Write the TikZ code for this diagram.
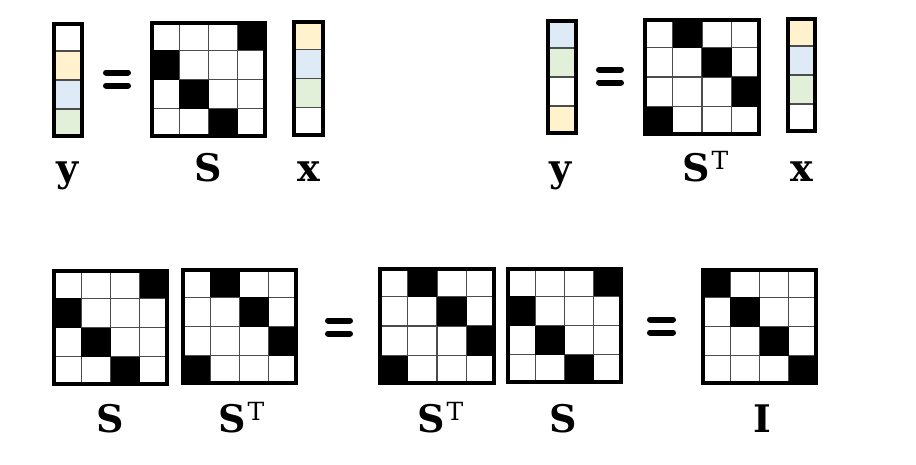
\documentclass[tikz,border=0pt]{standalone}
\usepackage{fontspec}
\setmainfont{DejaVu Serif}
\definecolor{cy}{HTML}{FFF2CC}
\definecolor{cb}{HTML}{DEEBF7}
\definecolor{cg}{HTML}{E2F0D9}
\tikzset{
 gridln/.style={draw=black!70, line width=1.3pt},
 frame/.style={draw=black, line width=4pt},
 eqbar/.style={line width=6pt, line cap=round},
 lbl/.style={font=\fontsize{38}{40}\selectfont\bfseries, inner sep=0pt},
}
\newcommand{\supT}{\kern2pt\raisebox{11.5pt}{\fontsize{25}{27}\selectfont\mdseries T}}
\newcommand{\pmat}[4]{%
 \begin{scope}[shift={(#1,#2)}]
  \pgfmathsetmacro\cellsz{#3/4}
  \foreach \i in {1,2,3} {\draw[gridln] ({\i*\cellsz},0) -- ({\i*\cellsz},#3); \draw[gridln] (0,{\i*\cellsz}) -- (#3,{\i*\cellsz});}
  \foreach \c/\r in {#4} {\fill[black] ({(\c-1)*\cellsz},{(\r-1)*\cellsz}) rectangle ++(\cellsz,\cellsz);}
  \draw[frame] (2,2) rectangle ({#3-2},{#3-2});
 \end{scope}}
\newcommand{\pvec}[5]{%
 \begin{scope}[shift={(#1,#2)}]
  \pgfmathsetmacro\cellh{#4/4}
  \foreach \col [count=\k] in {#5} {\fill[\col] (0,{(\k-1)*\cellh}) rectangle (#3,{\k*\cellh});}
  \foreach \i in {1,2,3} {\draw[gridln] (0,{\i*\cellh}) -- (#3,{\i*\cellh});}
  \draw[frame] (2,2) rectangle ({#3-2},{#4-2});
 \end{scope}}
\newcommand{\eqsign}[3]{%
 \draw[eqbar] ({#1+3},{#3-6.5}) -- ({#2-3},{#3-6.5});
 \draw[eqbar] ({#1+3},{#3+6.5}) -- ({#2-3},{#3+6.5});}
\begin{document}
\begin{tikzpicture}[x=1pt,y=-1pt]
\useasboundingbox (0,0) rectangle (916,464);
\fill[white] (0,0) rectangle (916,464);
% top left: y = S x
\pvec{52}{22}{32}{116}{white,cy,cb,cg}
\eqsign{103}{131}{79}
\pmat{150}{21}{117}{4/1,1/2,2/3,3/4}
\pvec{292}{20}{33}{117}{cy,cb,cg,white}
\node[lbl,anchor=base] (ly1) at (68,181) {y};
\node[lbl,anchor=base] (ls1) at (208,181) {S};
\node[lbl,anchor=base] (lx1) at (309,181) {x};
% top right: y = S^T x
\pvec{546}{19}{32}{116}{cb,cg,white,cy}
\eqsign{596}{624}{76}
\pmat{643}{18}{118}{2/1,3/2,4/3,1/4}
\pvec{786}{17}{31}{116}{cy,cb,cg,white}
\node[lbl,anchor=base] (ly2) at (561,181) {y};
\node[lbl,anchor=base west] (lst1) at (682,181) {S\supT};
\node[lbl,anchor=base] (lx2) at (802,181) {x};
% bottom: S S^T = S^T S = I
\pmat{52}{269}{117}{4/1,1/2,2/3,3/4}
\pmat{181}{268}{117}{2/1,3/2,4/3,1/4}
\eqsign{325}{353}{327}
\pmat{378}{267}{118}{2/1,3/2,4/3,1/4}
\pmat{506}{267}{117}{4/1,1/2,2/3,3/4}
\eqsign{647}{676}{326}
\pmat{701}{268}{117}{1/1,2/2,3/3,4/4}
\node[lbl,anchor=base] (ls2) at (110,432) {S};
\node[lbl,anchor=base west] (lst2) at (218,432) {S\supT};
\node[lbl,anchor=base west] (lst3) at (417,432) {S\supT};
\node[lbl,anchor=base] (ls3) at (563,432) {S};
\node[lbl,anchor=base] (li) at (762,432) {I};
\end{tikzpicture}
\end{document}
